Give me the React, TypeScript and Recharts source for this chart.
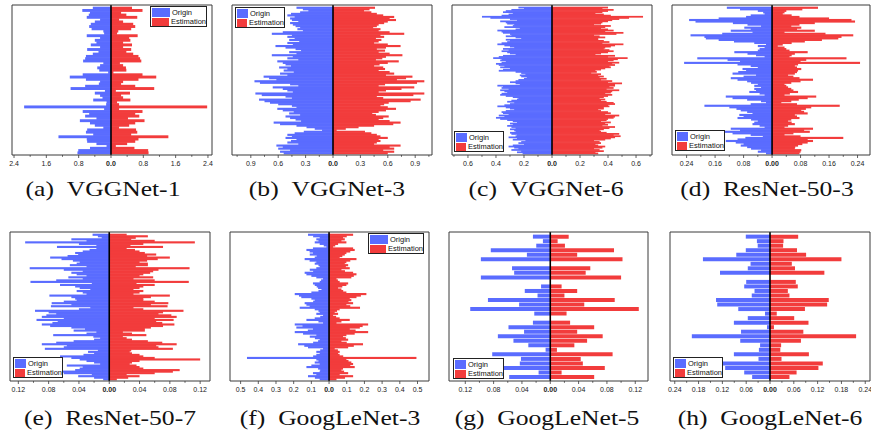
import React from "react";
import { Bar, BarChart, ReferenceLine, XAxis, YAxis } from "recharts";

const BLUE = "#5a6cff";
const RED = "#f23c3c";
const FRAME = "#3a3a3a";
const SANS = '"Liberation Sans", Arial, sans-serif';
const SERIF = '"Liberation Serif", "Times New Roman", serif';

// values are listed from the top bar of each chart downwards

const vgg1Origin = [0.45, 0.71, 0.52, 0.55, 0.6, 0.27, 0.4, 0.5, 0.54, 0.48, 0.19, 0.17, 0.6, 0.27, 0.4, 0.36, 0.5, 0.27, 0.59, 0.31, 0.45, 0.62, 0.64, 0.69, 0.19, 0.27, 0.34, 0.29, 0.07, 0.7, 1.02, 0.62, 0.27, 0.3, 0.64, 1.0, 0.15, 0.4, 0.27, 0.21, 0.44, 0.11, 0.12, 2.15, 0.17, 0.7, 0.54, 0.64, 0.36, 0.77, 0.52, 0.4, 0.19, 0.59, 0.62, 0.44, 1.3, 0.6, 0.59, 0.36, 0.11, 0.52, 0.81, 0.83];
const vgg1Estimation = [0.52, 0.78, 0.25, 0.38, 0.65, 0.2, 0.3, 0.55, 0.6, 0.5, 0.18, 0.15, 0.66, 0.45, 0.48, 0.3, 0.52, 0.3, 0.5, 0.38, 0.55, 0.68, 0.72, 0.75, 0.22, 0.3, 0.37, 0.38, 0.06, 0.78, 1.12, 0.68, 0.3, 0.25, 0.6, 1.07, 0.12, 0.47, 0.25, 0.3, 0.48, 0.15, 0.2, 2.38, 0.2, 0.78, 0.6, 0.7, 0.42, 0.83, 0.6, 0.45, 0.2, 0.62, 0.65, 0.5, 1.42, 0.68, 0.6, 0.4, 0.12, 0.58, 0.92, 0.93];

const vgg3Origin = [
  0.40, 0.33, 0.27, 0.36, 0.46, 0.50, 0.42, 0.47, 0.45, 0.38,
  0.47, 0.44, 0.41, 0.36, 0.39, 0.33, 0.55, 0.67, 0.45, 0.50,
  0.42, 0.48, 0.37, 0.50, 0.44, 0.63, 0.52, 0.41, 0.35, 0.48,
  0.40, 0.67, 0.44, 0.50, 0.38, 0.61, 0.55, 0.52, 0.46, 0.59,
  0.50, 0.54, 0.43, 0.58, 0.50, 0.76, 0.70, 0.62, 0.86, 0.80,
  0.47, 0.38, 0.66, 0.55, 0.50, 0.44, 0.85, 0.78, 0.52, 0.45,
  0.81, 0.75, 0.69, 0.60, 0.45, 0.40, 0.61, 0.55, 0.43, 0.48,
  0.36, 0.52, 0.47, 0.41, 0.35, 0.65, 0.58, 0.40, 0.29, 0.20,
  0.12, 0.32, 0.42, 0.50, 0.45, 0.52, 0.40, 0.46, 0.50, 0.38,
  0.62, 0.55, 0.60, 0.47, 0.58, 0.54,
];
const vgg3Estimation = [
  0.46, 0.40, 0.34, 0.42, 0.48, 0.55, 0.67, 0.62, 0.69, 0.60,
  0.56, 0.50, 0.48, 0.44, 0.52, 0.50, 0.62, 0.78, 0.52, 0.56,
  0.47, 0.53, 0.50, 0.45, 0.60, 0.74, 0.58, 0.48, 0.57, 0.50,
  0.62, 0.76, 0.58, 0.54, 0.47, 0.72, 0.60, 0.51, 0.45, 0.55,
  0.57, 0.50, 0.62, 0.67, 0.58, 0.87, 0.80, 0.70, 1.00, 0.92,
  0.57, 0.50, 0.89, 0.75, 0.58, 0.50, 1.00, 0.88, 0.48, 0.55,
  0.96, 0.85, 0.61, 0.56, 0.52, 0.60, 0.69, 0.58, 0.50, 0.43,
  0.47, 0.61, 0.55, 0.50, 0.62, 0.74, 0.66, 0.45, 0.28, 0.14,
  0.04, 0.35, 0.42, 0.48, 0.52, 0.60, 0.50, 0.52, 0.48, 0.45,
  0.74, 0.62, 0.67, 0.55, 0.67, 0.60,
];

const vgg6Origin = [
  0.24, 0.20, 0.29, 0.33, 0.35, 0.28, 0.31, 0.36, 0.50, 0.44,
  0.30, 0.25, 0.37, 0.33, 0.32, 0.27, 0.28, 0.34, 0.23, 0.26,
  0.39, 0.36, 0.35, 0.30, 0.29, 0.33, 0.26, 0.22, 0.33, 0.30,
  0.32, 0.36, 0.39, 0.34, 0.30, 0.27, 0.35, 0.31, 0.36, 0.32,
  0.30, 0.26, 0.35, 0.38, 0.42, 0.36, 0.37, 0.33, 0.36, 0.40,
  0.38, 0.34, 0.37, 0.30, 0.35, 0.38, 0.26, 0.22, 0.19, 0.23,
  0.22, 0.18, 0.20, 0.24, 0.26, 0.30, 0.26, 0.23, 0.39, 0.35,
  0.36, 0.31, 0.37, 0.34, 0.32, 0.36, 0.37, 0.33, 0.28, 0.24,
  0.25, 0.29, 0.32, 0.27, 0.30, 0.34, 0.39, 0.33, 0.30, 0.27,
  0.33, 0.36, 0.35, 0.31, 0.38, 0.34, 0.40, 0.37, 0.32, 0.28,
  0.25, 0.30, 0.28, 0.32, 0.29, 0.26, 0.30, 0.27, 0.26, 0.30,
  0.29, 0.25, 0.26, 0.31, 0.25, 0.28, 0.19, 0.22, 0.24, 0.20,
  0.28, 0.31, 0.27, 0.24, 0.29, 0.22, 0.25, 0.21,
];
const vgg6Estimation = [
  0.40, 0.36, 0.44, 0.40, 0.36, 0.31, 0.37, 0.42, 0.65, 0.55,
  0.48, 0.43, 0.40, 0.36, 0.35, 0.30, 0.42, 0.38, 0.35, 0.40,
  0.44, 0.38, 0.51, 0.46, 0.30, 0.34, 0.38, 0.33, 0.33, 0.37,
  0.41, 0.36, 0.51, 0.45, 0.42, 0.38, 0.37, 0.41, 0.44, 0.40,
  0.35, 0.31, 0.45, 0.40, 0.54, 0.47, 0.44, 0.40, 0.48, 0.43,
  0.45, 0.41, 0.42, 0.38, 0.35, 0.31, 0.32, 0.28, 0.35, 0.33,
  0.37, 0.34, 0.39, 0.35, 0.43, 0.40, 0.50, 0.45, 0.45, 0.41,
  0.44, 0.39, 0.48, 0.43, 0.42, 0.38, 0.43, 0.40, 0.37, 0.34,
  0.38, 0.35, 0.39, 0.44, 0.45, 0.40, 0.41, 0.37, 0.37, 0.33,
  0.35, 0.40, 0.42, 0.38, 0.48, 0.45, 0.44, 0.40, 0.39, 0.35,
  0.42, 0.38, 0.40, 0.36, 0.45, 0.41, 0.37, 0.34, 0.35, 0.39,
  0.48, 0.44, 0.49, 0.45, 0.42, 0.38, 0.30, 0.34, 0.35, 0.31,
  0.33, 0.38, 0.36, 0.30, 0.34, 0.37, 0.31, 0.33,
];

const resnet3Origin = [
  0.127, 0.090, 0.040, 0.025, 0.021, 0.060, 0.073, 0.150, 0.233, 0.215,
  0.110, 0.069, 0.031, 0.078, 0.060, 0.116, 0.055, 0.140, 0.229, 0.190,
  0.186, 0.150, 0.107, 0.050, 0.017, 0.040, 0.021, 0.035, 0.040, 0.106,
  0.069, 0.045, 0.021, 0.210, 0.125, 0.090, 0.247, 0.097, 0.060, 0.040,
  0.083, 0.073, 0.095, 0.111, 0.045, 0.080, 0.116, 0.097, 0.070, 0.059,
  0.040, 0.050, 0.031, 0.050, 0.045, 0.064, 0.035, 0.021, 0.130, 0.111,
  0.070, 0.031, 0.017, 0.060, 0.190, 0.120, 0.100, 0.088, 0.070, 0.055,
  0.092, 0.080, 0.097, 0.059, 0.040, 0.050, 0.055, 0.035, 0.021, 0.116,
  0.090, 0.144, 0.111, 0.060, 0.026, 0.075, 0.097, 0.130, 0.102, 0.080,
  0.088, 0.070, 0.059, 0.031, 0.040, 0.017,
];
const resnet3Estimation = [
  0.129, 0.085, 0.040, 0.035, 0.030, 0.055, 0.077, 0.160, 0.223, 0.233,
  0.120, 0.077, 0.054, 0.082, 0.070, 0.120, 0.035, 0.150, 0.228, 0.195,
  0.186, 0.140, 0.092, 0.055, 0.030, 0.016, 0.035, 0.040, 0.049, 0.100,
  0.064, 0.055, 0.049, 0.209, 0.096, 0.080, 0.247, 0.073, 0.064, 0.070,
  0.082, 0.073, 0.070, 0.064, 0.045, 0.060, 0.077, 0.115, 0.080, 0.054,
  0.035, 0.040, 0.045, 0.054, 0.060, 0.073, 0.050, 0.035, 0.124, 0.100,
  0.075, 0.054, 0.026, 0.070, 0.190, 0.110, 0.095, 0.082, 0.090, 0.100,
  0.064, 0.070, 0.077, 0.054, 0.045, 0.055, 0.064, 0.045, 0.035, 0.115,
  0.090, 0.106, 0.060, 0.035, 0.080, 0.200, 0.100, 0.115, 0.100, 0.085,
  0.073, 0.065, 0.064, 0.082, 0.080, 0.077,
];

const resnet7Origin = [
  0.022, 0.015, 0.010, 0.050, 0.030, 0.111, 0.040, 0.017, 0.069, 0.017,
  0.026, 0.035, 0.045, 0.041, 0.055, 0.078, 0.063, 0.048, 0.039, 0.043,
  0.052, 0.030, 0.105, 0.060, 0.035, 0.050, 0.043, 0.030, 0.054, 0.035,
  0.070, 0.104, 0.023, 0.065, 0.045, 0.039, 0.025, 0.043, 0.035, 0.030,
  0.079, 0.050, 0.045, 0.043, 0.060, 0.076, 0.050, 0.077, 0.025, 0.040,
  0.098, 0.080, 0.070, 0.083, 0.089, 0.060, 0.096, 0.068, 0.075, 0.089,
  0.078, 0.050, 0.032, 0.047, 0.017, 0.030, 0.074, 0.021, 0.012, 0.020,
  0.047, 0.070, 0.089, 0.056, 0.060, 0.085, 0.015, 0.028, 0.020, 0.034,
  0.065, 0.050, 0.039, 0.030, 0.020, 0.012, 0.056, 0.035, 0.039, 0.045,
  0.100, 0.060, 0.023, 0.041, 0.020, 0.008,
];
const resnet7Estimation = [
  0.023, 0.051, 0.035, 0.029, 0.060, 0.113, 0.045, 0.028, 0.071, 0.023,
  0.034, 0.040, 0.047, 0.062, 0.050, 0.080, 0.064, 0.050, 0.040, 0.051,
  0.051, 0.035, 0.106, 0.065, 0.058, 0.054, 0.045, 0.040, 0.058, 0.032,
  0.060, 0.105, 0.036, 0.060, 0.045, 0.040, 0.032, 0.045, 0.040, 0.032,
  0.080, 0.055, 0.045, 0.045, 0.060, 0.078, 0.055, 0.077, 0.032, 0.045,
  0.098, 0.071, 0.065, 0.082, 0.089, 0.060, 0.085, 0.062, 0.070, 0.086,
  0.071, 0.055, 0.047, 0.047, 0.018, 0.030, 0.049, 0.018, 0.023, 0.030,
  0.051, 0.070, 0.089, 0.062, 0.065, 0.084, 0.029, 0.027, 0.030, 0.040,
  0.045, 0.060, 0.120, 0.040, 0.030, 0.027, 0.036, 0.040, 0.045, 0.093,
  0.084, 0.060, 0.023, 0.040, 0.025, 0.010,
];

const google3Origin = [
  0.119, 0.090, 0.053, 0.072, 0.060, 0.081, 0.053, 0.030, 0.015, 0.091,
  0.128, 0.110, 0.091, 0.109, 0.070, 0.081, 0.138, 0.110, 0.072, 0.081,
  0.060, 0.053, 0.072, 0.109, 0.090, 0.138, 0.128, 0.100, 0.072, 0.034,
  0.045, 0.053, 0.091, 0.081, 0.070, 0.062, 0.043, 0.060, 0.100, 0.194,
  0.170, 0.157, 0.100, 0.081, 0.090, 0.138, 0.128, 0.110, 0.166, 0.081,
  0.060, 0.053, 0.072, 0.034, 0.050, 0.081, 0.128, 0.060, 0.034, 0.194,
  0.150, 0.185, 0.091, 0.120, 0.194, 0.147, 0.072, 0.109, 0.080, 0.053,
  0.062, 0.090, 0.175, 0.140, 0.119, 0.034, 0.050, 0.072, 0.053, 0.072,
  0.090, 0.464, 0.072, 0.060, 0.081, 0.053, 0.100, 0.128, 0.062, 0.050,
  0.053, 0.091, 0.072, 0.119, 0.080, 0.053,
];
const google3Estimation = [
  0.136, 0.100, 0.079, 0.089, 0.070, 0.098, 0.051, 0.035, 0.023, 0.136,
  0.145, 0.120, 0.098, 0.089, 0.075, 0.060, 0.155, 0.120, 0.098, 0.089,
  0.108, 0.095, 0.117, 0.070, 0.090, 0.136, 0.155, 0.140, 0.126, 0.042,
  0.050, 0.060, 0.108, 0.098, 0.075, 0.051, 0.070, 0.080, 0.098, 0.211,
  0.180, 0.155, 0.117, 0.126, 0.110, 0.136, 0.098, 0.120, 0.175, 0.060,
  0.045, 0.032, 0.051, 0.023, 0.040, 0.060, 0.117, 0.070, 0.042, 0.221,
  0.190, 0.174, 0.117, 0.150, 0.221, 0.145, 0.098, 0.079, 0.095, 0.108,
  0.070, 0.100, 0.192, 0.140, 0.108, 0.032, 0.050, 0.060, 0.051, 0.060,
  0.080, 0.494, 0.098, 0.110, 0.126, 0.136, 0.120, 0.145, 0.079, 0.070,
  0.085, 0.108, 0.060, 0.136, 0.090, 0.042,
];

const google5Origin = [0.0245, 0.0104, 0.0198, 0.084, 0.033, 0.098, 0, 0.054, 0.051, 0.098, 0, 0.013, 0.036, 0.018, 0.088, 0.044, 0.113, 0.0226, 0, 0.0245, 0.059, 0.037, 0.074, 0.052, 0.031, 0.0066, 0.082, 0.0414, 0.043, 0.074, 0.0165, 0.058];
const google5Estimation = [0.026, 0.0104, 0.0207, 0.09, 0.038, 0.102, 0, 0.0565, 0.05, 0.1, 0, 0.016, 0.038, 0.02, 0.091, 0.048, 0.125, 0.023, 0, 0.028, 0.062, 0.038, 0.074, 0.052, 0.034, 0.0094, 0.088, 0.043, 0.046, 0.077, 0.016, 0.062];

const google6Origin = [0.061, 0.033, 0.031, 0.061, 0.085, 0.169, 0.049, 0.056, 0.126, 0, 0.06, 0.065, 0.039, 0.046, 0.136, 0.133, 0.08, 0.0126, 0.056, 0.091, 0.0076, 0.073, 0.197, 0.075, 0.025, 0.028, 0.091, 0.029, 0.123, 0.113, 0.065, 0.045];
const google6Estimation = [0.071, 0.034, 0.033, 0.068, 0.091, 0.18, 0.055, 0.063, 0.137, 0, 0.065, 0.07, 0.045, 0.049, 0.148, 0.144, 0.088, 0.017, 0.061, 0.097, 0.01, 0.084, 0.217, 0.078, 0.028, 0.026, 0.098, 0.029, 0.133, 0.122, 0.067, 0.049];

// x axis ticks (labelled and small unlabelled ones)
const vgg1Major = [-2.4, -1.6, -0.8, 0, 0.8, 1.6, 2.4];
const vgg1Minor = [-2.0, -1.2, -0.4, 0.4, 1.2, 2.0];
const vgg3Major = [-0.9, -0.6, -0.3, 0, 0.3, 0.6, 0.9];
const vgg3Minor = [-1.05, -0.75, -0.45, -0.15, 0.15, 0.45, 0.75, 1.05];
const vgg6Major = [-0.6, -0.4, -0.2, 0, 0.2, 0.4, 0.6];
const vgg6Minor = [-0.7, -0.5, -0.3, -0.1, 0.1, 0.3, 0.5, 0.7];
const resnet3Major = [-0.24, -0.16, -0.08, 0, 0.08, 0.16, 0.24];
const resnet3Minor = [-0.2, -0.12, -0.04, 0.04, 0.12, 0.2];
const resnet7Major = [-0.12, -0.08, -0.04, 0, 0.04, 0.08, 0.12];
const resnet7Minor = [-0.1, -0.06, -0.02, 0.02, 0.06, 0.1];
const google3Major = [-0.5, -0.4, -0.3, -0.2, -0.1, 0, 0.1, 0.2, 0.3, 0.4, 0.5];
const google3Minor: number[] = [];
const google5Major = [-0.12, -0.08, -0.04, 0, 0.04, 0.08, 0.12];
const google5Minor = [-0.1, -0.06, -0.02, 0.02, 0.06, 0.1];
const google6Major = [-0.24, -0.18, -0.12, -0.06, 0, 0.06, 0.12, 0.18, 0.24];
const google6Minor = [-0.21, -0.15, -0.09, -0.03, 0.03, 0.09, 0.15, 0.21];

// unlabelled ticks on the filter axis (counted from the bottom bar)
const vgg1Rows = [10, 20, 30, 40, 50, 60];
const vgg3Rows = [15, 30, 45, 60, 75, 90];
const vgg6Rows = [25, 50, 75, 100, 125];
const resnetRows = [11, 23, 34, 45, 57, 68, 79, 90];
const google3Rows = [15, 30, 45, 60, 75, 90];
const googleRows = [5, 10, 15, 20, 25, 30];

type Spec = {
  caption: string;
  captionX: number;
  origin: number[];
  estimation: number[];
  domain: [number, number];
  major: number[];
  minor: number[];
  digits: number;
  rows: number[];
  left: number;
  top: number;
  width: number;
  height: number;
  pad: { top: number; bottom: number };
  solid: boolean;
  legend: { x: number; y: number; w: number; sw: number };
};

const ROW1 = 4.5;
const ROW2 = 232;

const specs: Spec[] = [
  { caption: "(a)\u2002VGGNet-1", captionX: 103, origin: vgg1Origin, estimation: vgg1Estimation, domain: [-2.45, 2.5], major: vgg1Major, minor: vgg1Minor, digits: 1, rows: vgg1Rows, left: 12, top: ROW1, width: 200, height: 150, pad: { top: 2, bottom: 1 }, solid: true, legend: { x: 150, y: 6, w: 57, sw: 18 } },
  { caption: "(b)\u2002VGGNet-3", captionX: 327, origin: vgg3Origin, estimation: vgg3Estimation, domain: [-1.106, 1.084], major: vgg3Major, minor: vgg3Minor, digits: 1, rows: vgg3Rows, left: 232, top: ROW1, width: 200, height: 150, pad: { top: 2, bottom: 1 }, solid: true, legend: { x: 235, y: 7, w: 50, sw: 11 } },
  { caption: "(c)\u2002VGGNet-6", captionX: 546, origin: vgg6Origin, estimation: vgg6Estimation, domain: [-0.714, 0.714], major: vgg6Major, minor: vgg6Minor, digits: 1, rows: vgg6Rows, left: 452, top: ROW1, width: 200, height: 150, pad: { top: 2, bottom: 1 }, solid: true, legend: { x: 454, y: 131, w: 50, sw: 11 } },
  { caption: "(d)\u2002ResNet-50-3", captionX: 767, origin: resnet3Origin, estimation: resnet3Estimation, domain: [-0.281, 0.275], major: resnet3Major, minor: resnet3Minor, digits: 2, rows: resnetRows, left: 672, top: ROW1, width: 198, height: 150, pad: { top: 2, bottom: 1 }, solid: true, legend: { x: 675, y: 130, w: 50, sw: 11 } },
  { caption: "(e)\u2002ResNet-50-7", captionX: 109.5, origin: resnet7Origin, estimation: resnet7Estimation, domain: [-0.131, 0.133], major: resnet7Major, minor: resnet7Minor, digits: 2, rows: resnetRows, left: 10, top: ROW2, width: 200, height: 149, pad: { top: 2, bottom: 1 }, solid: true, legend: { x: 13, y: 357, w: 50, sw: 11 } },
  { caption: "(f)\u2002GoogLeNet-3", captionX: 330, origin: google3Origin, estimation: google3Estimation, domain: [-0.56, 0.565], major: google3Major, minor: google3Minor, digits: 1, rows: google3Rows, left: 230, top: ROW2, width: 199, height: 149, pad: { top: 2, bottom: 1 }, solid: true, legend: { x: 368, y: 233, w: 56, sw: 18 } },
  { caption: "(g)\u2002GoogLeNet-5", captionX: 547, origin: google5Origin, estimation: google5Estimation, domain: [-0.143, 0.138], major: google5Major, minor: google5Minor, digits: 2, rows: googleRows, left: 449, top: ROW2, width: 199, height: 149, pad: { top: 2.4, bottom: 1.7 }, solid: false, legend: { x: 453, y: 358, w: 51, sw: 11 } },
  { caption: "(h)\u2002GoogLeNet-6", captionX: 770, origin: google6Origin, estimation: google6Estimation, domain: [-0.252, 0.252], major: google6Major, minor: google6Minor, digits: 2, rows: googleRows, left: 670, top: ROW2, width: 200, height: 149, pad: { top: 2.4, bottom: 1.7 }, solid: false, legend: { x: 673, y: 357, w: 50, sw: 11 } },
];

function XTick(props: any) {
  const { x, y, payload, major, digits } = props;
  const v = payload.value;
  const isMajor = major.some((m: number) => Math.abs(m - v) < 1e-9);
  return (
    <g>
      <line x1={x} x2={x} y1={y} y2={y + (isMajor ? 3 : 1.8)} stroke={FRAME} strokeWidth={0.8} />
      {isMajor && (
        <text
          x={x}
          y={y + 11}
          textAnchor="middle"
          fontSize={7}
          fontFamily={SANS}
          fontWeight={Math.abs(v) < 1e-9 ? "bold" : "normal"}
          fill="#222"
        >
          {Math.abs(v).toFixed(digits)}
        </text>
      )}
    </g>
  );
}

// bar rectangle that slightly overlaps its neighbours so dense rows show no seams
function DenseBar(props: any) {
  const { x, y, width, height, fill } = props;
  if (!width || !height) return null;
  const left = Math.min(x, x + width);
  return <rect x={left} y={y - 0.3} width={Math.abs(width)} height={Math.abs(height) + 0.6} fill={fill} />;
}

function Legend2({ spec }: { spec: Spec }) {
  const { x, y, w, sw } = spec.legend;
  const items: [string, string][] = [
    ["Origin", BLUE],
    ["Estimation", RED],
  ];
  return (
    <div
      style={{
        position: "absolute",
        left: x,
        top: y,
        width: w,
        height: 21,
        boxSizing: "border-box",
        border: "1px solid #222",
        background: "#fff",
        fontFamily: SANS,
        fontSize: 7.5,
        color: "#111",
        paddingTop: 0.5,
      }}
    >
      {items.map(([label, color]) => (
        <div key={label} style={{ display: "flex", alignItems: "center", height: 9.5 }}>
          <span style={{ display: "inline-block", width: sw, height: 8.5, background: color, marginLeft: 1, marginRight: 2 }} />
          <span style={{ whiteSpace: "nowrap", lineHeight: "9px" }}>{label}</span>
        </div>
      ))}
    </div>
  );
}

function Panel({ spec }: { spec: Spec }) {
  const n = spec.origin.length;
  const rows = spec.origin.map((v, i) => ({ idx: n - i, origin: -v, estimation: spec.estimation[i] }));
  const ml = 10;
  const mr = 10;
  const mt = 1;
  const yw = 4;
  const xh = 16;
  const W = spec.width + ml + mr + yw + 1;
  const H = spec.height + mt + 1 + xh;
  const xTicks = [...spec.major, ...spec.minor].sort((a, b) => a - b);
  const captionTop = spec.top < 100 ? 178.5 : 407.5;
  // dense charts: let each bar fill its whole row
  const band = (spec.height - spec.pad.top - spec.pad.bottom) / n;
  const barSize = spec.solid ? band * 0.999 : undefined;
  const shape = spec.solid ? (p: any) => <DenseBar {...p} /> : undefined;

  return (
    <>
      <div style={{ position: "absolute", left: spec.left - ml - yw, top: spec.top - mt - 1 }}>
        <BarChart
          width={W}
          height={H}
          data={rows}
          layout="vertical"
          stackOffset="sign"
          barCategoryGap={spec.solid ? 0 : "5%"}
          margin={{ top: mt, right: mr, bottom: 0, left: ml }}
        >
          <XAxis
            type="number"
            domain={spec.domain}
            allowDataOverflow
            ticks={xTicks}
            interval={0}
            height={xh}
            axisLine={{ stroke: FRAME }}
            tickLine={false}
            tickSize={0}
            tickMargin={0}
            tick={(p: any) => <XTick {...p} major={spec.major} digits={spec.digits} />}
          />
          <XAxis
            xAxisId="top"
            orientation="top"
            type="number"
            domain={spec.domain}
            allowDataOverflow
            height={1}
            tick={false}
            tickLine={false}
            axisLine={{ stroke: FRAME }}
          />
          <YAxis
            type="category"
            dataKey="idx"
            ticks={spec.rows}
            interval={0}
            width={yw}
            tick={false}
            tickSize={3}
            tickLine={{ stroke: FRAME }}
            axisLine={{ stroke: FRAME }}
            padding={spec.pad}
          />
          <YAxis
            yAxisId="right"
            orientation="right"
            type="number"
            domain={[0, 1]}
            width={1}
            tick={false}
            tickLine={false}
            axisLine={{ stroke: FRAME }}
          />
          <Bar dataKey="origin" stackId="s" fill={BLUE} barSize={barSize} shape={shape} isAnimationActive={false} />
          <Bar dataKey="estimation" stackId="s" fill={RED} barSize={barSize} shape={shape} isAnimationActive={false} />
          <ReferenceLine x={0} stroke="#000" strokeWidth={1.6} />
        </BarChart>
      </div>
      <Legend2 spec={spec} />
      <div
        style={{
          position: "absolute",
          left: spec.captionX,
          top: captionTop,
          transform: "translateX(-50%) scaleX(1.19)",
          fontFamily: SERIF,
          fontSize: 21.5,
          lineHeight: "21.5px",
          whiteSpace: "nowrap",
          color: "#111",
        }}
      >
        {spec.caption}
      </div>
    </>
  );
}

export default function App() {
  return (
    <div
      style={{
        position: "absolute",
        left: 0,
        top: 0,
        width: 871,
        height: 432,
        background: "#fff",
        overflow: "hidden",
      }}
    >
      {specs.map((s) => (
        <Panel key={s.caption} spec={s} />
      ))}
    </div>
  );
}
